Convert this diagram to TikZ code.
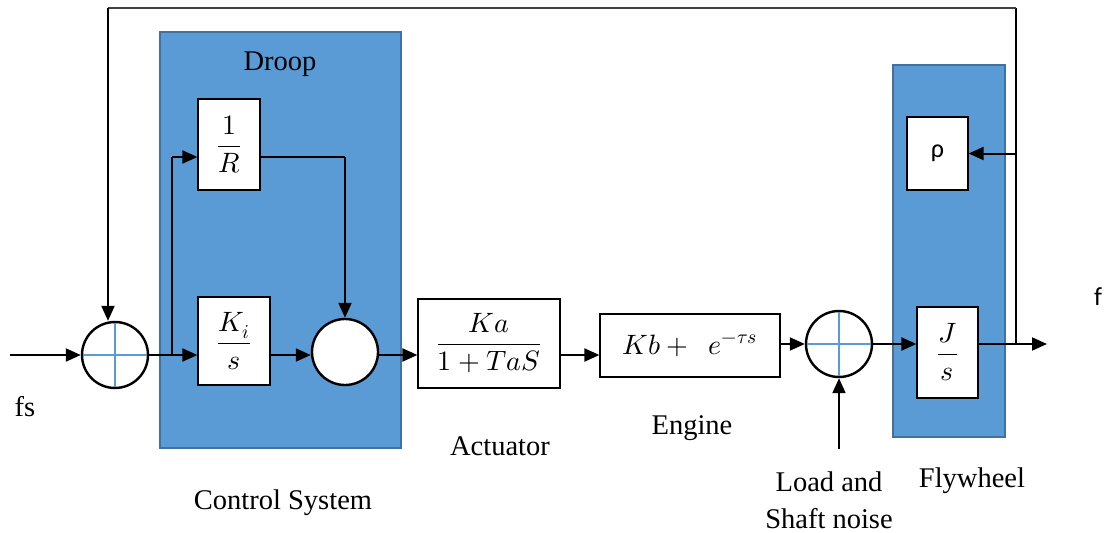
\documentclass[tikz,border=0pt]{standalone}
\usepackage{amsmath}
\usepackage{fontspec}
\usepackage{unicode-math}
\setmainfont{Liberation Serif}
\setmathfont{Latin Modern Math}
\newfontfamily\sansfont{Carlito}
\usetikzlibrary{arrows.meta,calc}
\definecolor{panelblue}{HTML}{5B9BD5}
\definecolor{paneledge}{HTML}{41719C}
\definecolor{crossblue}{HTML}{5B9BD5}
\begin{document}
\begin{tikzpicture}[x=1pt,y=-1pt,
  panel/.style={draw=paneledge,fill=panelblue,line width=2pt,inner sep=0pt},
  blockbox/.style={draw,fill=white,line width=1.2pt,inner sep=0pt,
    font=\fontsize{28}{32}\selectfont},
  sumnode/.style={circle,draw,fill=white,line width=2.4pt,minimum size=66pt,inner sep=0pt},
  crossline/.style={draw=crossblue,line width=1.2pt},
  sig/.style={line width=2pt,-{Triangle[length=15pt,width=13pt]}},
  wire/.style={line width=2pt},
  lbl/.style={font=\fontsize{28.5}{37}\selectfont,inner sep=0pt,align=center},
  sanslbl/.style={font=\sansfont\fontsize{26}{30}\selectfont,inner sep=0pt}]
\useasboundingbox (0,0) rectangle (1112,533);

% background panels
\node[panel,minimum width=241pt,minimum height=416pt] (ctrl) at (280.5,240) {};
\node[panel,minimum width=112pt,minimum height=372pt] (fly) at (949,251) {};

% transfer blocks
\node[blockbox,minimum width=62pt,minimum height=91pt] (R) at (229,144.5) {$\dfrac{1}{R}$};
\node[blockbox,minimum width=72pt,minimum height=88pt] (Ki) at (234,341) {$\dfrac{K_i}{s}$};
\node[blockbox,minimum width=142pt,minimum height=89pt] (Ka) at (489,343.5) {$\dfrac{Ka}{1+TaS}$};
\node[blockbox,minimum width=180pt,minimum height=63pt] (Kb) at (690,345.5) {$Kb+\ \ e^{-\tau s}$};
\node[blockbox,minimum width=61pt,minimum height=91pt] (J) at (947.5,352.5) {$\dfrac{J}{s}$};
\node[blockbox,minimum width=61pt,minimum height=73pt,font=\sansfont\fontsize{26}{30}\selectfont] (rho) at (937.5,153.5) {ρ};

% summing junctions
\node[sumnode] (s1) at (115,355) {};
\node[sumnode] (s2) at (345,352) {};
\node[sumnode] (s3) at (839,344) {};
\foreach \s in {s1,s3}{
  \draw[crossline,shorten <=2pt,shorten >=2pt] (\s.north) -- (\s.south);
  \draw[crossline,shorten <=2pt,shorten >=2pt] (\s.west) -- (\s.east);
}

% auxiliary points
\coordinate (fin) at (10,355);
\coordinate (br) at (172,355);
\coordinate (rin) at (172,157);
\coordinate (tap) at (1016,344);
\coordinate (fout) at (1047,344);
\coordinate (tr) at (1016,8);
\coordinate (tl) at (108,8);
\coordinate (load) at (839,449);

% main path
\draw[sig] (fin) -- (s1.west);
\draw[sig] (s1.east) -- (Ki.west |- s1.east);
\draw[sig] (Ki.east |- s1.east) -- (s2.west |- s1.east);
\draw[sig] (s2.east |- s1.east) -- (Ka.west |- s1.east);
\draw[sig] (Ka.east |- s1.east) -- (Kb.west |- s1.east);
\draw[sig] (Kb.east |- s3.east) -- (s3.west);
\draw[sig] (s3.east) -- (J.west |- s3.east);
\draw[sig] (J.east |- s3.east) -- (fout);

% droop branch
\draw[wire] (br) -- (rin);
\draw[sig] (rin) -- (R.west |- rin);
\draw[wire] (R.east |- rin) -- (s2.north |- rin);
\draw[sig] (s2.north |- rin) -- (s2.north);

% load disturbance
\draw[sig] (load) -- (s3.south);

% frequency feedback
\draw[line width=1.6pt] (tap) -- (tr);
\draw[line width=1.2pt,black!75] (tr) -- (tl);
\draw[sig] (tl) -- (tl |- s1.north);
\draw[sig] (tap |- rho.east) -- (rho.east);

% labels
\node[lbl] (lfs) at (25,407) {fs};
\node[lbl] (ldroop) at (280,64) {Droop};
\node[lbl] (lctrl) at (283,503) {Control System};
\node[lbl] (lact) at (500,446) {Actuator};
\node[lbl] (leng) at (692,428) {Engine};
\node[lbl] (lload) at (829,500) {Load and\\Shaft noise};
\node[lbl] (lfly) at (972,481) {Flywheel};
\node[sanslbl] (lf) at (1098,297) {f};
\end{tikzpicture}
\end{document}
